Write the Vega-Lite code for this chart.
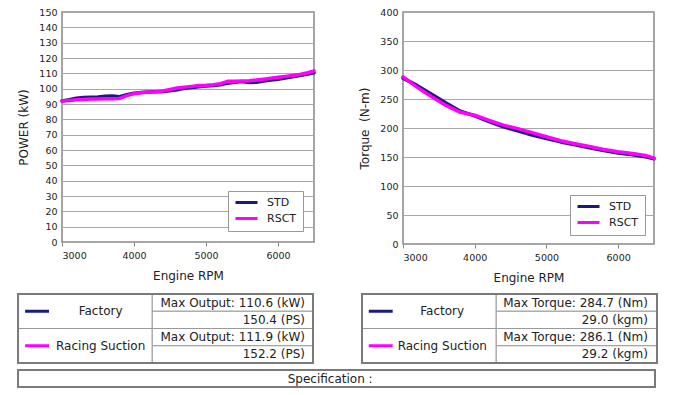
{
  "$schema": "https://vega.github.io/schema/vega-lite/v6.json",
  "padding": {"left": 17, "top": 6, "right": 5, "bottom": 5},
  "background": "white",
  "config": {
    "font": "DejaVu Sans",
    "axis": {
      "labelFont": "DejaVu Sans", "labelFontSize": 9.5, "labelColor": "#222",
      "titleFont": "DejaVu Sans", "titleFontSize": 12, "titleFontWeight": "normal", "titleColor": "#222",
      "gridColor": "#a8a8a8", "gridWidth": 1, "domain": false
    },
    "axisX": {"grid": false, "ticks": true, "tickSize": 4, "tickColor": "#888", "labelPadding": 4, "titlePadding": 11, "format": "d"},
    "axisY": {"grid": true, "ticks": false, "labelPadding": 5, "titlePadding": 8},
    "legend": {
      "title": null, "symbolType": "M-1,0H4.5", "symbolStrokeWidth": 3, "symbolSize": 64,
      "labelFont": "DejaVu Sans", "labelFontSize": 11, "labelColor": "#222", "labelOffset": 22,
      "strokeColor": "#999", "fillColor": "white", "padding": 6, "rowPadding": 3
    },
    "text": {"font": "DejaVu Sans", "fontSize": 12, "fill": "#222"}
  },
  "datasets": {
    "power": [
      {"rpm": 3000, "kw": 92.0, "series": "STD"},
      {"rpm": 3100, "kw": 92.8, "series": "STD"},
      {"rpm": 3200, "kw": 93.8, "series": "STD"},
      {"rpm": 3300, "kw": 94.2, "series": "STD"},
      {"rpm": 3400, "kw": 94.4, "series": "STD"},
      {"rpm": 3500, "kw": 94.6, "series": "STD"},
      {"rpm": 3600, "kw": 95.0, "series": "STD"},
      {"rpm": 3700, "kw": 95.2, "series": "STD"},
      {"rpm": 3800, "kw": 94.8, "series": "STD"},
      {"rpm": 3900, "kw": 96.0, "series": "STD"},
      {"rpm": 4000, "kw": 97.0, "series": "STD"},
      {"rpm": 4100, "kw": 97.5, "series": "STD"},
      {"rpm": 4200, "kw": 97.8, "series": "STD"},
      {"rpm": 4300, "kw": 98.0, "series": "STD"},
      {"rpm": 4400, "kw": 98.2, "series": "STD"},
      {"rpm": 4500, "kw": 98.6, "series": "STD"},
      {"rpm": 4600, "kw": 99.3, "series": "STD"},
      {"rpm": 4700, "kw": 100.2, "series": "STD"},
      {"rpm": 4800, "kw": 100.8, "series": "STD"},
      {"rpm": 4900, "kw": 101.3, "series": "STD"},
      {"rpm": 5000, "kw": 101.7, "series": "STD"},
      {"rpm": 5100, "kw": 102.0, "series": "STD"},
      {"rpm": 5200, "kw": 102.6, "series": "STD"},
      {"rpm": 5300, "kw": 103.6, "series": "STD"},
      {"rpm": 5400, "kw": 104.2, "series": "STD"},
      {"rpm": 5500, "kw": 104.6, "series": "STD"},
      {"rpm": 5600, "kw": 104.0, "series": "STD"},
      {"rpm": 5700, "kw": 104.2, "series": "STD"},
      {"rpm": 5800, "kw": 105.0, "series": "STD"},
      {"rpm": 5900, "kw": 105.6, "series": "STD"},
      {"rpm": 6000, "kw": 106.2, "series": "STD"},
      {"rpm": 6100, "kw": 107.0, "series": "STD"},
      {"rpm": 6200, "kw": 107.8, "series": "STD"},
      {"rpm": 6300, "kw": 108.6, "series": "STD"},
      {"rpm": 6400, "kw": 109.4, "series": "STD"},
      {"rpm": 6500, "kw": 110.4, "series": "STD"},
      {"rpm": 3000, "kw": 92.0, "series": "RSCT"},
      {"rpm": 3100, "kw": 92.3, "series": "RSCT"},
      {"rpm": 3200, "kw": 92.8, "series": "RSCT"},
      {"rpm": 3300, "kw": 93.0, "series": "RSCT"},
      {"rpm": 3400, "kw": 93.2, "series": "RSCT"},
      {"rpm": 3500, "kw": 93.2, "series": "RSCT"},
      {"rpm": 3600, "kw": 93.5, "series": "RSCT"},
      {"rpm": 3700, "kw": 93.5, "series": "RSCT"},
      {"rpm": 3800, "kw": 93.6, "series": "RSCT"},
      {"rpm": 3900, "kw": 95.5, "series": "RSCT"},
      {"rpm": 4000, "kw": 96.8, "series": "RSCT"},
      {"rpm": 4100, "kw": 97.4, "series": "RSCT"},
      {"rpm": 4200, "kw": 97.8, "series": "RSCT"},
      {"rpm": 4300, "kw": 98.0, "series": "RSCT"},
      {"rpm": 4400, "kw": 98.5, "series": "RSCT"},
      {"rpm": 4500, "kw": 99.5, "series": "RSCT"},
      {"rpm": 4600, "kw": 100.4, "series": "RSCT"},
      {"rpm": 4700, "kw": 101.0, "series": "RSCT"},
      {"rpm": 4800, "kw": 101.5, "series": "RSCT"},
      {"rpm": 4900, "kw": 102.0, "series": "RSCT"},
      {"rpm": 5000, "kw": 102.2, "series": "RSCT"},
      {"rpm": 5100, "kw": 102.6, "series": "RSCT"},
      {"rpm": 5200, "kw": 103.2, "series": "RSCT"},
      {"rpm": 5300, "kw": 104.8, "series": "RSCT"},
      {"rpm": 5400, "kw": 104.8, "series": "RSCT"},
      {"rpm": 5500, "kw": 105.0, "series": "RSCT"},
      {"rpm": 5600, "kw": 105.2, "series": "RSCT"},
      {"rpm": 5700, "kw": 105.6, "series": "RSCT"},
      {"rpm": 5800, "kw": 106.2, "series": "RSCT"},
      {"rpm": 5900, "kw": 106.8, "series": "RSCT"},
      {"rpm": 6000, "kw": 107.4, "series": "RSCT"},
      {"rpm": 6100, "kw": 108.0, "series": "RSCT"},
      {"rpm": 6200, "kw": 108.6, "series": "RSCT"},
      {"rpm": 6300, "kw": 109.3, "series": "RSCT"},
      {"rpm": 6400, "kw": 110.2, "series": "RSCT"},
      {"rpm": 6500, "kw": 111.6, "series": "RSCT"}
    ],
    "torque": [
      {"rpm": 3000, "nm": 286, "series": "STD"},
      {"rpm": 3200, "nm": 273, "series": "STD"},
      {"rpm": 3400, "nm": 258, "series": "STD"},
      {"rpm": 3600, "nm": 243, "series": "STD"},
      {"rpm": 3800, "nm": 229, "series": "STD"},
      {"rpm": 4000, "nm": 221, "series": "STD"},
      {"rpm": 4200, "nm": 211, "series": "STD"},
      {"rpm": 4400, "nm": 202, "series": "STD"},
      {"rpm": 4600, "nm": 195, "series": "STD"},
      {"rpm": 4800, "nm": 188, "series": "STD"},
      {"rpm": 5000, "nm": 182, "series": "STD"},
      {"rpm": 5200, "nm": 176, "series": "STD"},
      {"rpm": 5400, "nm": 171, "series": "STD"},
      {"rpm": 5600, "nm": 166, "series": "STD"},
      {"rpm": 5800, "nm": 161, "series": "STD"},
      {"rpm": 6000, "nm": 157, "series": "STD"},
      {"rpm": 6200, "nm": 154, "series": "STD"},
      {"rpm": 6400, "nm": 150, "series": "STD"},
      {"rpm": 6500, "nm": 147, "series": "STD"},
      {"rpm": 3000, "nm": 288, "series": "RSCT"},
      {"rpm": 3200, "nm": 270, "series": "RSCT"},
      {"rpm": 3400, "nm": 254, "series": "RSCT"},
      {"rpm": 3600, "nm": 239, "series": "RSCT"},
      {"rpm": 3800, "nm": 227, "series": "RSCT"},
      {"rpm": 4000, "nm": 222, "series": "RSCT"},
      {"rpm": 4200, "nm": 213, "series": "RSCT"},
      {"rpm": 4400, "nm": 205, "series": "RSCT"},
      {"rpm": 4600, "nm": 199, "series": "RSCT"},
      {"rpm": 4800, "nm": 192, "series": "RSCT"},
      {"rpm": 5000, "nm": 185, "series": "RSCT"},
      {"rpm": 5200, "nm": 178, "series": "RSCT"},
      {"rpm": 5400, "nm": 173, "series": "RSCT"},
      {"rpm": 5600, "nm": 168, "series": "RSCT"},
      {"rpm": 5800, "nm": 163, "series": "RSCT"},
      {"rpm": 6000, "nm": 159, "series": "RSCT"},
      {"rpm": 6200, "nm": 156, "series": "RSCT"},
      {"rpm": 6400, "nm": 152, "series": "RSCT"},
      {"rpm": 6500, "nm": 148, "series": "RSCT"}
    ],
    "cells": [
      {"x0": 0, "x1": 0.455, "y0": 0, "y1": 2},
      {"x0": 0, "x1": 0.455, "y0": 2, "y1": 4},
      {"x0": 0.455, "x1": 1, "y0": 0, "y1": 1},
      {"x0": 0.455, "x1": 1, "y0": 1, "y1": 2},
      {"x0": 0.455, "x1": 1, "y0": 2, "y1": 3},
      {"x0": 0.455, "x1": 1, "y0": 3, "y1": 4}
    ],
    "outer": [{"x0": 0, "x1": 1, "y0": 0, "y1": 4}],
    "names": [
      {"row": 1, "name": "Factory", "series": "STD"},
      {"row": 3, "name": "Racing Suction", "series": "RSCT"}
    ],
    "powerVals": [
      {"row": 0.5, "label": "Max Output: 110.6 (kW)"},
      {"row": 1.5, "label": "150.4 (PS)"},
      {"row": 2.5, "label": "Max Output: 111.9 (kW)"},
      {"row": 3.5, "label": "152.2 (PS)"}
    ],
    "torqueVals": [
      {"row": 0.5, "label": "Max Torque: 284.7 (Nm)"},
      {"row": 1.5, "label": "29.0 (kgm)"},
      {"row": 2.5, "label": "Max Torque: 286.1 (Nm)"},
      {"row": 3.5, "label": "29.2 (kgm)"}
    ],
    "spec": [{"label": "Specification :"}]
  },
  "resolve": {"scale": {"color": "independent"}, "legend": {"color": "independent"}},
  "spacing": 8,
  "vconcat": [
    {
      "spacing": 41,
      "resolve": {"scale": {"color": "independent"}, "legend": {"color": "independent"}},
      "hconcat": [
        {
          "width": 252, "height": 230,
          "view": {"stroke": "#888", "strokeWidth": 1.5},
          "data": {"name": "power"},
          "mark": {"type": "line", "strokeWidth": 3.5, "strokeJoin": "round", "strokeCap": "round"},
          "encoding": {
            "x": {"field": "rpm", "type": "quantitative", "scale": {"domain": [3000, 6500], "nice": false, "zero": false},
                  "axis": {"values": [3000, 4000, 5000, 6000], "title": "Engine RPM"}},
            "y": {"field": "kw", "type": "quantitative", "scale": {"domain": [0, 150], "nice": false},
                  "axis": {"values": [0, 10, 20, 30, 40, 50, 60, 70, 80, 90, 100, 110, 120, 130, 140, 150], "title": "POWER (kW)"}},
            "color": {"field": "series", "type": "nominal", "sort": ["STD", "RSCT"],
                      "scale": {"domain": ["STD", "RSCT"], "range": ["#1a1a7e", "#ff00ff"]},
                      "legend": {"orient": "bottom-right", "offset": 11}}
          }
        },
        {
          "width": 251, "height": 232,
          "view": {"stroke": "#888", "strokeWidth": 1.5},
          "data": {"name": "torque"},
          "mark": {"type": "line", "strokeWidth": 3.5, "strokeJoin": "round", "strokeCap": "round"},
          "encoding": {
            "x": {"field": "rpm", "type": "quantitative", "scale": {"domain": [3000, 6500], "nice": false, "zero": false},
                  "axis": {"values": [3000, 4000, 5000, 6000], "title": "Engine RPM"}},
            "y": {"field": "nm", "type": "quantitative", "scale": {"domain": [0, 400], "nice": false},
                  "axis": {"values": [0, 50, 100, 150, 200, 250, 300, 350, 400], "title": "Torque\u00a0\u00a0(N-m)"}},
            "color": {"field": "series", "type": "nominal", "sort": ["STD", "RSCT"],
                      "scale": {"domain": ["STD", "RSCT"], "range": ["#1a1a7e", "#ff00ff"]},
                      "legend": {"orient": "bottom-right", "offset": 9}}
          }
        }
      ]
    },
    {
      "spacing": 5,
      "resolve": {"scale": {"color": "independent"}, "legend": {"color": "independent"}},
      "vconcat": [
        {
          "spacing": 47,
          "resolve": {"scale": {"color": "independent"}, "legend": {"color": "independent"}},
          "hconcat": [
            {
              "width": 251, "height": 69,
              "view": {"stroke": null},
              "layer": [
                {
                  "data": {"name": "cells"},
                  "mark": {"type": "rect", "fill": "white", "stroke": "#999", "strokeWidth": 1},
                  "encoding": {
                    "x": {"field": "x0", "type": "quantitative", "scale": {"domain": [0.149, 1], "nice": false, "zero": false}, "axis": null},
                    "x2": {"field": "x1"},
                    "y": {"field": "y0", "type": "quantitative", "scale": {"domain": [0, 4], "nice": false, "reverse": true}, "axis": null},
                    "y2": {"field": "y1"}
                  }
                },
                {
                  "data": {"name": "outer"},
                  "mark": {"type": "rect", "fill": null, "fillOpacity": 0, "stroke": "#7a7a7a", "strokeWidth": 2},
                  "encoding": {
                    "x": {"field": "x0", "type": "quantitative"},
                    "x2": {"field": "x1"},
                    "y": {"field": "y0", "type": "quantitative"},
                    "y2": {"field": "y1"}
                  }
                },
                {
                  "data": {"name": "names"},
                  "mark": {"type": "rule", "strokeWidth": 3},
                  "encoding": {
                    "x": {"datum": 0.024, "type": "quantitative"},
                    "x2": {"datum": 0.105},
                    "y": {"field": "row", "type": "quantitative"},
                    "color": {"field": "series", "type": "nominal", "scale": {"domain": ["STD", "RSCT"], "range": ["#1a1a7e", "#ff00ff"]}, "legend": null}
                  }
                },
                {
                  "data": {"name": "names"},
                  "mark": {"type": "text", "align": "center", "baseline": "middle"},
                  "encoding": {
                    "x": {"datum": 0.28, "type": "quantitative"},
                    "y": {"field": "row", "type": "quantitative"},
                    "text": {"field": "name"}
                  }
                },
                {
                  "data": {"name": "powerVals"},
                  "mark": {"type": "text", "align": "right", "baseline": "middle"},
                  "encoding": {
                    "x": {"datum": 0.973, "type": "quantitative"},
                    "y": {"field": "row", "type": "quantitative"},
                    "text": {"field": "label"}
                  }
                }
              ]
            },
            {
              "width": 295, "height": 69,
              "view": {"stroke": null},
              "layer": [
                {
                  "data": {"name": "cells"},
                  "mark": {"type": "rect", "fill": "white", "stroke": "#999", "strokeWidth": 1},
                  "encoding": {
                    "x": {"field": "x0", "type": "quantitative", "scale": {"domain": [0, 1], "nice": false, "zero": false}, "axis": null},
                    "x2": {"field": "x1"},
                    "y": {"field": "y0", "type": "quantitative", "scale": {"domain": [0, 4], "nice": false, "reverse": true}, "axis": null},
                    "y2": {"field": "y1"}
                  }
                },
                {
                  "data": {"name": "outer"},
                  "mark": {"type": "rect", "fill": null, "fillOpacity": 0, "stroke": "#7a7a7a", "strokeWidth": 2},
                  "encoding": {
                    "x": {"field": "x0", "type": "quantitative"},
                    "x2": {"field": "x1"},
                    "y": {"field": "y0", "type": "quantitative"},
                    "y2": {"field": "y1"}
                  }
                },
                {
                  "data": {"name": "names"},
                  "mark": {"type": "rule", "strokeWidth": 3},
                  "encoding": {
                    "x": {"datum": 0.023, "type": "quantitative"},
                    "x2": {"datum": 0.104},
                    "y": {"field": "row", "type": "quantitative"},
                    "color": {"field": "series", "type": "nominal", "scale": {"domain": ["STD", "RSCT"], "range": ["#1a1a7e", "#ff00ff"]}, "legend": null}
                  }
                },
                {
                  "data": {"name": "names"},
                  "mark": {"type": "text", "align": "center", "baseline": "middle"},
                  "encoding": {
                    "x": {"datum": 0.272, "type": "quantitative"},
                    "y": {"field": "row", "type": "quantitative"},
                    "text": {"field": "name"}
                  }
                },
                {
                  "data": {"name": "torqueVals"},
                  "mark": {"type": "text", "align": "right", "baseline": "middle"},
                  "encoding": {
                    "x": {"datum": 0.969, "type": "quantitative"},
                    "y": {"field": "row", "type": "quantitative"},
                    "text": {"field": "label"}
                  }
                }
              ]
            }
          ]
        },
        {
          "width": 593, "height": 17,
          "view": {"stroke": null},
          "layer": [
            {
              "data": {"name": "outer"},
              "mark": {"type": "rect", "fill": "white", "stroke": "#7a7a7a", "strokeWidth": 2},
              "encoding": {
                "x": {"field": "x0", "type": "quantitative", "scale": {"domain": [0.069, 1], "nice": false, "zero": false}, "axis": null},
                "x2": {"field": "x1"},
                "y": {"field": "y0", "type": "quantitative", "scale": {"domain": [0, 4], "nice": false, "reverse": true}, "axis": null},
                "y2": {"field": "y1"}
              }
            },
            {
              "data": {"name": "spec"},
              "mark": {"type": "text", "align": "center", "baseline": "middle"},
              "encoding": {
                "x": {"datum": 0.49, "type": "quantitative"},
                "y": {"datum": 2, "type": "quantitative"},
                "text": {"field": "label"}
              }
            }
          ]
        }
      ]
    }
  ]
}
